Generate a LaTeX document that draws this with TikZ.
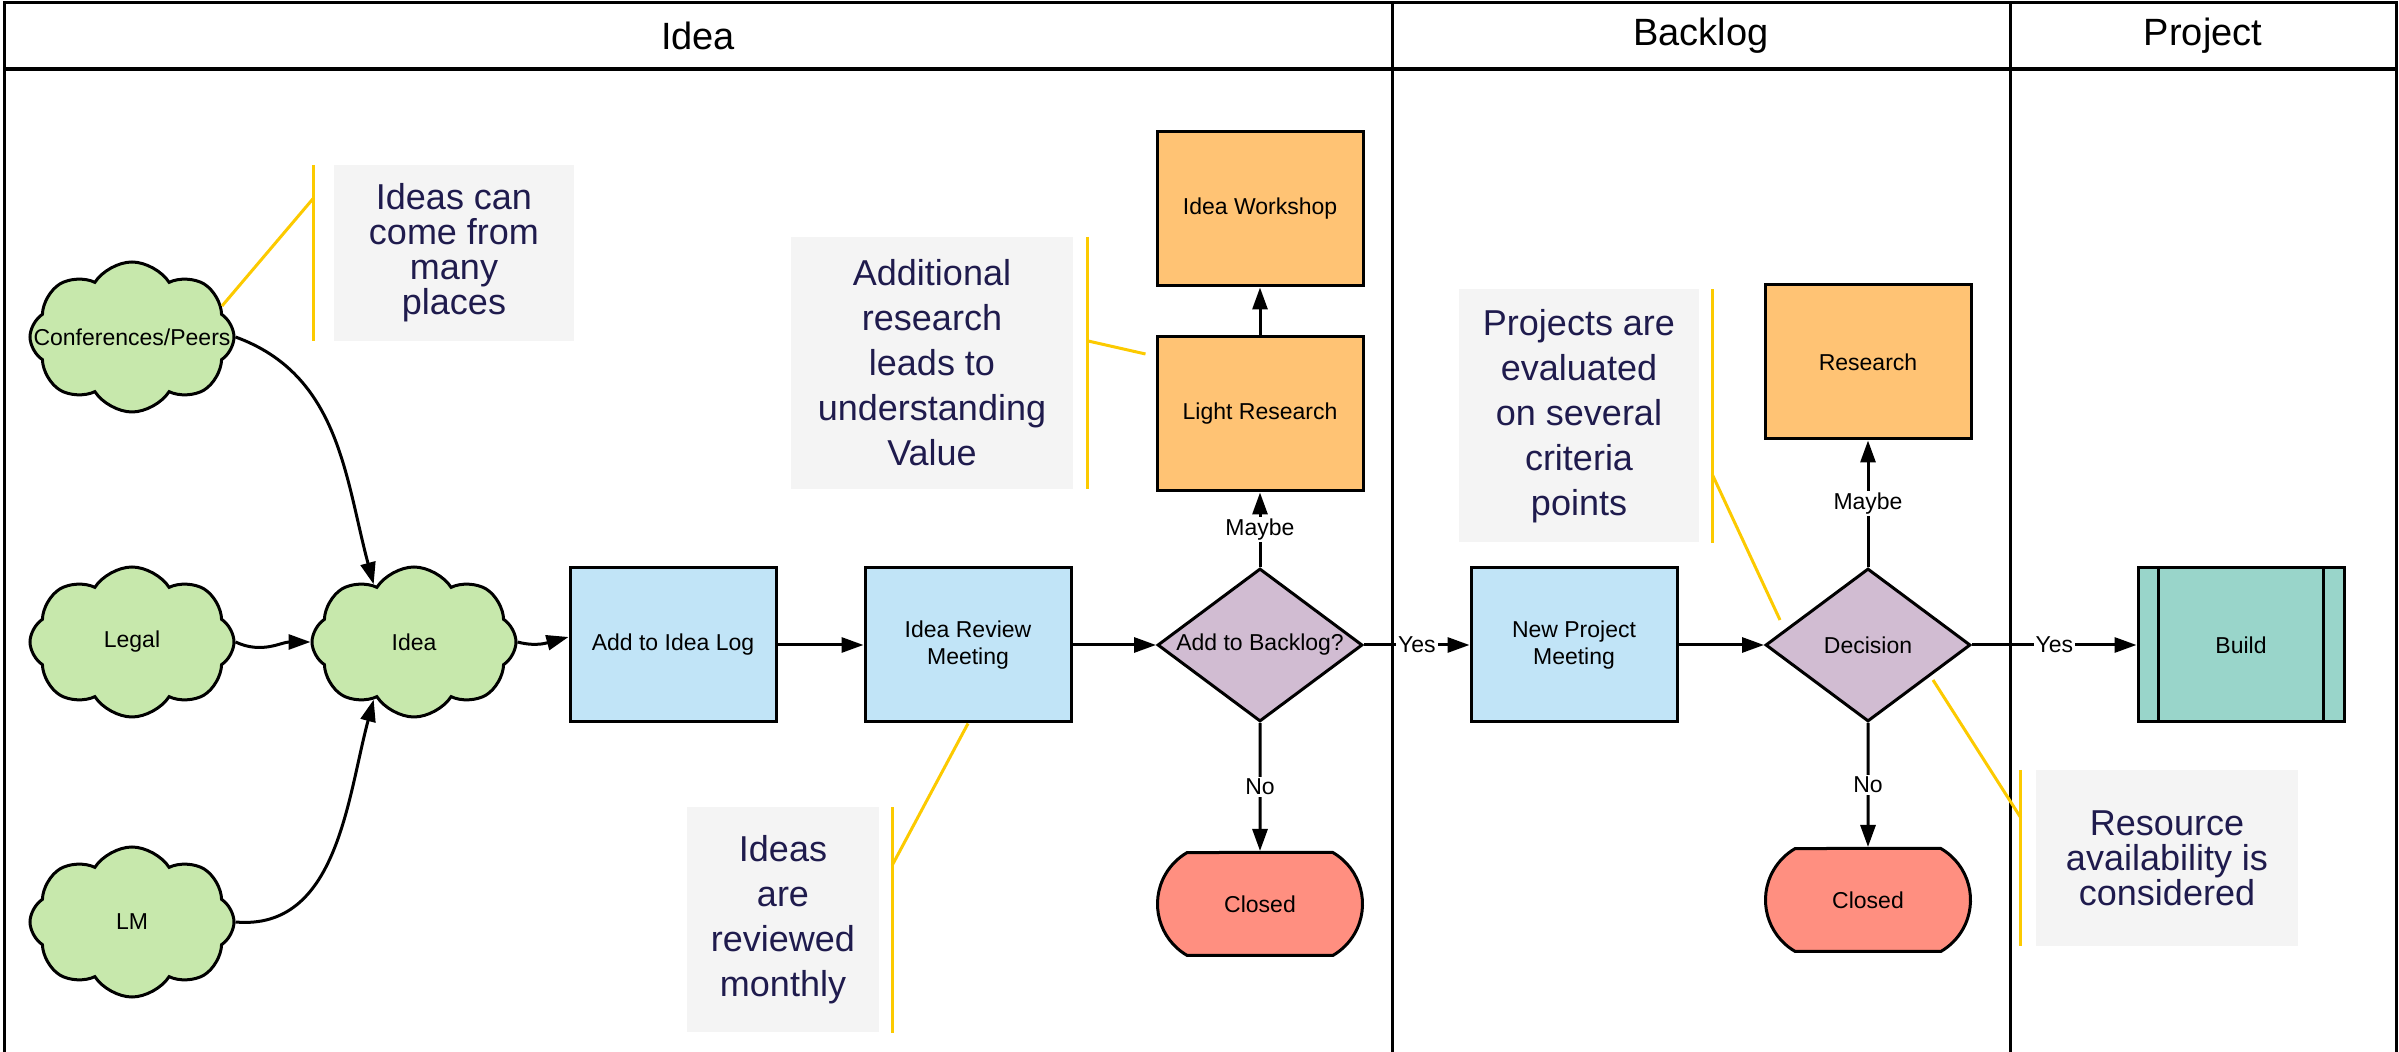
\documentclass[tikz,border=0pt]{standalone}
\usepackage{fontspec}
\setmainfont{Liberation Sans}
\usepackage{xcolor}
\usetikzlibrary{shapes.geometric, shapes.symbols, shapes.misc, arrows.meta, calc, positioning}
\definecolor{boxblue}{RGB}{193,228,247}
\definecolor{boxorange}{RGB}{255,195,116}
\definecolor{boxpurple}{RGB}{209,188,210}
\definecolor{boxred}{RGB}{255,143,128}
\definecolor{buildteal}{RGB}{153,213,202}
\definecolor{cloudgreen}{RGB}{199,232,172}
\definecolor{notegray}{RGB}{244,244,244}
\definecolor{notetext}{RGB}{31,27,77}
\definecolor{noteyellow}{RGB}{252,202,0}
\tikzstyle{arrow} = [line width=3pt, -{Triangle[length=22pt,width=15pt]}]
\tikzstyle{base} = [draw, line width=3pt, font=\fontsize{23}{27}\selectfont, align=center, inner sep=0pt]
\tikzstyle{process} = [base, rectangle, fill=boxblue, minimum width=206pt, minimum height=154pt]
\tikzstyle{study} = [process, fill=boxorange]
\tikzstyle{decision} = [base, diamond, aspect=1.34, fill=boxpurple, minimum width=205pt, minimum height=153pt]
\tikzstyle{terminal} = [base, rounded rectangle, rounded rectangle arc length=120, fill=boxred, minimum width=205pt, minimum height=103pt]
\tikzstyle{source} = [base, cloud, cloud puffs=8, cloud puff arc=115, cloud ignores aspect, fill=cloudgreen, minimum width=204pt, minimum height=150pt]
\tikzstyle{note} = [fill=notegray, text=notetext, font=\fontsize{36}{45}\selectfont, align=center, inner sep=0pt]
\tikzstyle{tightnote} = [note, font={\fontsize{36}{35}\selectfont\lineskiplimit=-50pt}]
\tikzstyle{pointer} = [draw=noteyellow, line width=3pt]
\tikzstyle{edgelabel} = [fill=white, font=\fontsize{23}{27}\selectfont, inner sep=2pt]
\tikzstyle{lane} = [font=\fontsize{38}{40}\selectfont]

\begin{document}
\begin{tikzpicture}[x=1pt, y=1pt]
        \useasboundingbox (0,0) rectangle (2399,1052);
        \draw[line width=3pt] (4,0) -- (4,1049) -- (2396,1049) -- (2396,0);
        \draw[line width=4.5pt] (4,983) -- (2396,983);
        \draw[line width=3pt] (1392,0) -- (1392,1049) (2010,0) -- (2010,1049);
        \node[lane] (hidea) at (698,1016) {Idea};
        \node[lane] (hbacklog) at (1701,1016) {Backlog};
        \node[lane] (hproject) at (2203,1016) {Project};

        \node[source] (conf) at (132,715) {\makebox[0pt]{Conferences/Peers}};
        \node[source] (legal) at (132,410) {Legal};
        \node[source] (lm) at (132,130) {LM};
        \node[source] (idea) at (414,410) {Idea};
        \node[process] (addlog) at (673,407) {Add to Idea Log};
        \node[process] (review) at (968,407) {Idea Review\\Meeting};
        \node[decision] (addbl) at (1260,407) {Add to Backlog?};
        \node[study] (lightres) at (1260,638) {Light Research};
        \node[study] (workshop) at (1260,843) {Idea Workshop};
        \node[terminal] (closeda) at (1260,148) {Closed};
        \node[process] (newproj) at (1574,407) {New Project\\Meeting};
        \node[decision] (decide) at (1868,407) {Decision};
        \node[study] (research) at (1868,690) {Research};
        \node[terminal] (closedb) at (1868,152) {Closed};
        \node[process, fill=buildteal] (build) at (2241,407) {Build};
        \draw[line width=3pt] ([xshift=22pt]build.north west) -- ([xshift=22pt]build.south west);
        \draw[line width=3pt] ([xshift=-22pt]build.north east) -- ([xshift=-22pt]build.south east);

        \draw[arrow] (conf.east) to[out=-20, in=105] (idea.125);
        \draw[arrow] (legal.east) to[out=-25, in=180] (idea.west);
        \draw[arrow] (lm.east) to[out=-5, in=-105] (idea.235);
        \draw[arrow] (idea.east) to[out=-15, in=195] ([yshift=8pt]addlog.west);
        \draw[arrow] (addlog) -- (review);
        \draw[arrow] (review) -- (addbl);
        \draw[arrow] (addbl) -- node[edgelabel] {Maybe} (lightres);
        \draw[arrow] (lightres) -- (workshop);
        \draw[arrow] (addbl) -- node[edgelabel] {No} (closeda);
        \draw[arrow] (addbl) -- node[edgelabel] {Yes} (newproj);
        \draw[arrow] (newproj) -- (decide);
        \draw[arrow] (decide) -- node[edgelabel] {Maybe} (research);
        \draw[arrow] (decide) -- node[edgelabel] {No} (closedb);
        \draw[arrow] (decide) -- node[edgelabel] {Yes} (build);

        \node[tightnote, minimum width=240pt, minimum height=176pt] (ncome) at (454,799) {Ideas can\\come from\\many\\places};
        \draw[pointer] ([xshift=-20pt]ncome.north west) -- ([xshift=-20pt]ncome.south west);
        \draw[pointer] ([xshift=-20pt, yshift=-33pt]ncome.north west) -- (conf.19);
        \node[note, minimum width=282pt, minimum height=252pt] (nvalue) at (932,689) {Additional\\research\\leads to\\understanding\\Value};
        \draw[pointer] ([xshift=14pt]nvalue.north east) -- ([xshift=14pt]nvalue.south east);
        \draw[pointer] ([xshift=14pt, yshift=-104pt]nvalue.north east) -- ($(lightres.west)+(-10,60)$);
        \node[note, minimum width=192pt, minimum height=225pt] (nmonth) at (783,132) {Ideas\\are\\reviewed\\monthly};
        \draw[pointer] ([xshift=13pt]nmonth.north east) -- ([xshift=13pt]nmonth.south east);
        \draw[pointer] ([xshift=13pt, yshift=-58pt]nmonth.north east) -- (review.south);
        \node[note, minimum width=240pt, minimum height=253pt] (ncriteria) at (1579,636) {Projects are\\evaluated\\on several\\criteria\\points};
        \draw[pointer] ([xshift=13pt]ncriteria.north east) -- ([xshift=13pt]ncriteria.south east);
        \draw[pointer] ([xshift=13pt, yshift=-185pt]ncriteria.north east) -- ($(decide.west)+(16,25)$);
        \node[tightnote, minimum width=262pt, minimum height=176pt] (nresource) at (2167,194) {Resource\\availability is\\considered};
        \draw[pointer] ([xshift=-15pt]nresource.north west) -- ([xshift=-15pt]nresource.south west);
        \draw[pointer] ([xshift=-15pt, yshift=-48pt]nresource.north west) -- ($(decide.east)+(-39,-35)$);
\end{tikzpicture}
\end{document}
